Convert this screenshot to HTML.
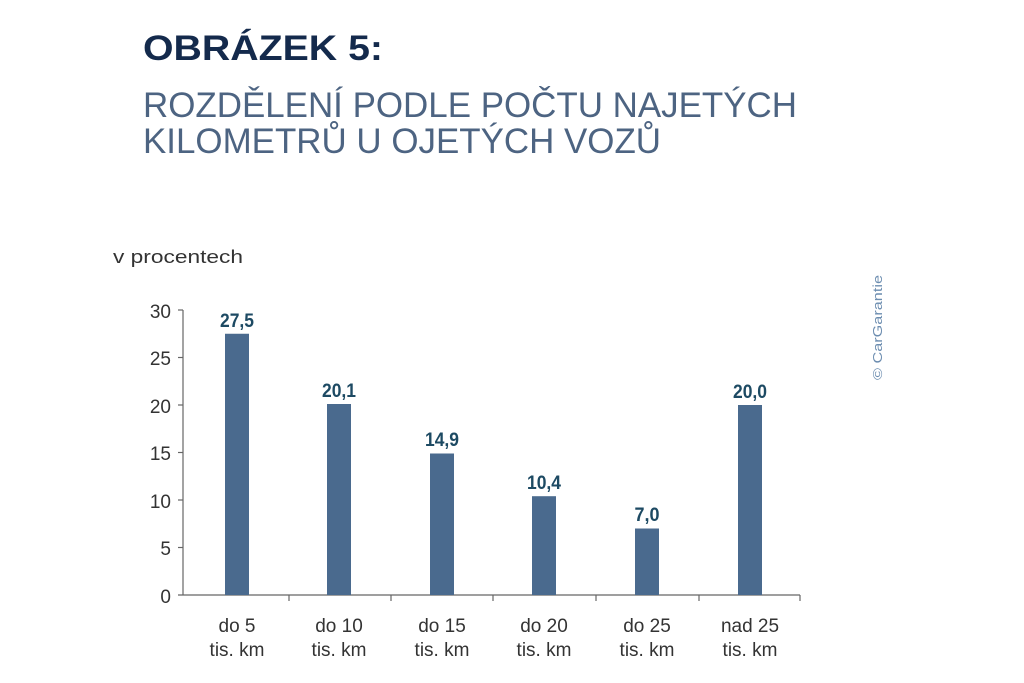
<!DOCTYPE html>
<html><head><meta charset="utf-8"><style>
html,body{margin:0;padding:0;background:#fff;width:1024px;height:683px;overflow:hidden}
</style></head><body>
<svg width="1024" height="683" xmlns="http://www.w3.org/2000/svg" font-family="Liberation Sans, sans-serif">
<text x="143" y="60" font-size="35" font-weight="bold" fill="#142a4c" textLength="240" lengthAdjust="spacingAndGlyphs">OBRÁZEK 5:</text>
<text x="143" y="117" font-size="35" fill="#4d6482" textLength="654" lengthAdjust="spacingAndGlyphs">ROZDĚLENÍ PODLE POČTU NAJETÝCH</text>
<text x="143" y="153" font-size="35" fill="#4d6482" textLength="518" lengthAdjust="spacingAndGlyphs">KILOMETRŮ U OJETÝCH VOZŮ</text>
<text x="113" y="263" font-size="18" fill="#333" textLength="130" lengthAdjust="spacingAndGlyphs">v procentech</text>
<text transform="translate(882,380) rotate(-90)" font-size="13" fill="#6c8db0" textLength="105" lengthAdjust="spacingAndGlyphs">© CarGarantie</text>
<g stroke="#666" stroke-width="1.2">
<line x1="183" y1="310" x2="183" y2="595"/>
<line x1="178" y1="595" x2="800" y2="595"/>
<line x1="178" y1="310" x2="183" y2="310"/><line x1="178" y1="357.5" x2="183" y2="357.5"/>
<line x1="178" y1="405" x2="183" y2="405"/><line x1="178" y1="452.5" x2="183" y2="452.5"/>
<line x1="178" y1="500" x2="183" y2="500"/><line x1="178" y1="547.5" x2="183" y2="547.5"/>
<line x1="289" y1="595" x2="289" y2="601"/><line x1="391" y1="595" x2="391" y2="601"/>
<line x1="493" y1="595" x2="493" y2="601"/><line x1="596" y1="595" x2="596" y2="601"/>
<line x1="699" y1="595" x2="699" y2="601"/><line x1="800" y1="595" x2="800" y2="601"/>
</g>
<g font-size="19" fill="#333" text-anchor="end">
<text x="171" y="318">30</text><text x="171" y="365">25</text><text x="171" y="413">20</text>
<text x="171" y="460">15</text><text x="171" y="508">10</text><text x="171" y="555">5</text><text x="171" y="603">0</text>
</g>
<g fill="#4a6a8e">
<rect x="225" y="333.75" width="24" height="261.25"/>
<rect x="327" y="404" width="24" height="191"/>
<rect x="430" y="453.5" width="24" height="141.5"/>
<rect x="532" y="496.2" width="24" height="98.8"/>
<rect x="635" y="528.5" width="24" height="66.5"/>
<rect x="738" y="405" width="24" height="190"/>
</g>
<g font-size="19" font-weight="bold" fill="#1d4a63" text-anchor="middle" lengthAdjust="spacingAndGlyphs">
<text x="237" y="327" textLength="34" lengthAdjust="spacingAndGlyphs">27,5</text>
<text x="339" y="397" textLength="34" lengthAdjust="spacingAndGlyphs">20,1</text>
<text x="442" y="446" textLength="34" lengthAdjust="spacingAndGlyphs">14,9</text>
<text x="544" y="489" textLength="34" lengthAdjust="spacingAndGlyphs">10,4</text>
<text x="647" y="521" textLength="25" lengthAdjust="spacingAndGlyphs">7,0</text>
<text x="750" y="398" textLength="34" lengthAdjust="spacingAndGlyphs">20,0</text>
</g>
<g font-size="19" fill="#333" text-anchor="middle">
<text x="237" y="632">do 5</text><text x="237" y="656">tis. km</text>
<text x="339" y="632">do 10</text><text x="339" y="656">tis. km</text>
<text x="442" y="632">do 15</text><text x="442" y="656">tis. km</text>
<text x="544" y="632">do 20</text><text x="544" y="656">tis. km</text>
<text x="647" y="632">do 25</text><text x="647" y="656">tis. km</text>
<text x="750" y="632">nad 25</text><text x="750" y="656">tis. km</text>
</g>
</svg>
</body></html>
